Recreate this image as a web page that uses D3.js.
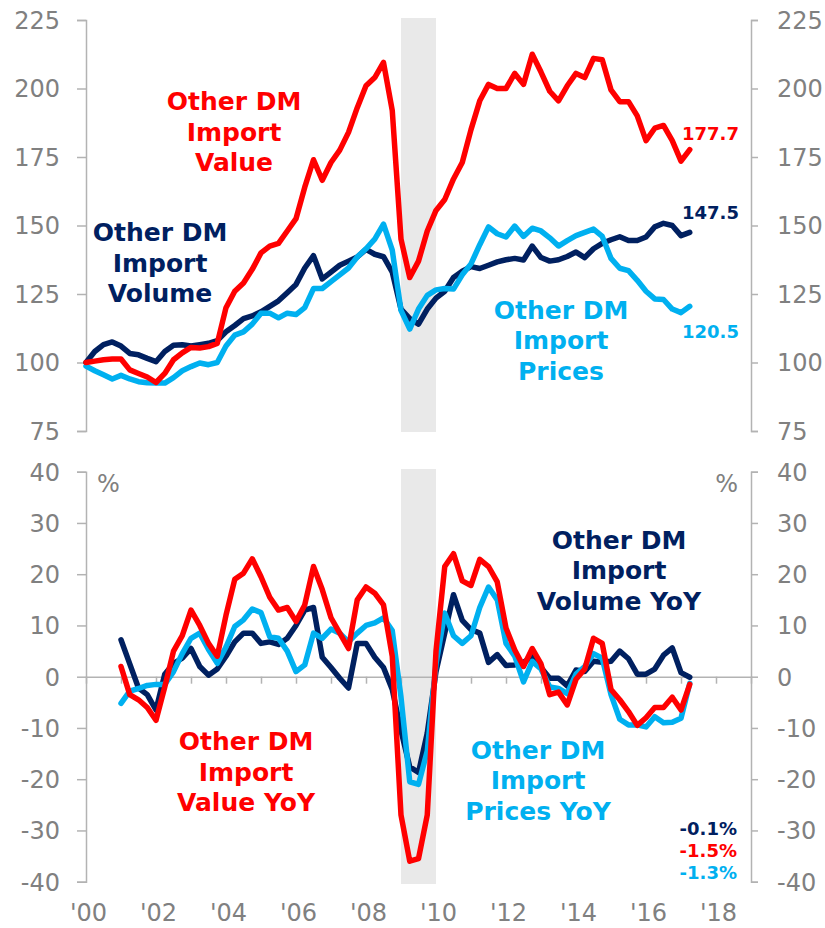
<!doctype html>
<html lang="en">
<head>
  <meta charset="utf-8">
  <title>Other DM imports</title>
  <script src="https://cdn.jsdelivr.net/npm/d3@7"></script>
  <style>
    body { margin: 0; background: #fff; }
    svg text { font-family: "DejaVu Sans", Verdana, sans-serif; }
  </style>
</head>
<body>
  <div id="chart"></div>
  <script>
    const NAVY = "#002060";
    const RED = "#FF0000";
    const LIGHT_BLUE = "#00B0F0";
    const GREY = "#808080";
    const AXIS_GREY = "#b3b3b3";
    const SHADE = "#e9e9e9";

    // quarterly readings, index level (Jan 2000 = 100), starting 2000 Q1
    const levelStart = 2000;
    const volume = [100, 104, 106.5, 107.5, 106, 103.3, 102.8, 101.5, 100.3, 104, 106.3, 106.5,
      106, 106.5, 107, 108, 111.2, 113.5, 116, 117, 118.5, 120.5, 122.5, 125.5,
      128.5, 134.5, 139, 130.5, 133, 135.5, 137, 138.5, 141.3, 139.5, 138.6, 133,
      119.5, 116, 114, 119.5, 123.5, 126, 131, 133.3, 135, 134.3, 135.5, 136.7,
      137.5, 138, 137.4, 142.5, 138.3, 137, 137.5, 138.7, 140.3, 138.3, 141.5, 143.5,
      144.8, 145.9, 144.5, 144.5, 145.8, 149.5, 150.8, 150, 146.3, 147.5];
    const value = [100, 100.5, 101, 101.3, 101.3, 97.3, 96, 94.7, 92.7, 96, 101, 103.5,
      105.5, 105.3, 105.8, 107, 120, 126, 129, 134, 140, 142.5, 143.5, 148,
      152.5, 164, 174, 166.5, 173, 177.5, 184, 193, 201, 204, 209.5, 192,
      145, 131, 137, 148, 155.5, 159.5, 167, 173, 185, 195.5, 201.5, 200,
      200, 205.5, 201.5, 212.5, 206, 199, 195.5, 201, 205.5, 204, 211, 210.5,
      199.5, 195.2, 195.2, 190, 181, 185.5, 186.5, 181, 173.5, 177.7];
    const prices = [98.7, 97, 95.5, 94, 95.3, 94, 93, 92.6, 92.5, 92.5, 94.5, 97,
      98.5, 99.8, 99.2, 100, 106, 110, 111.2, 114, 118, 118, 116.3, 118,
      117.5, 120, 127, 127, 129.5, 132, 134.5, 138.5, 141.5, 145, 150.5, 141,
      119, 112.2, 119.5, 124.5, 126.5, 127, 126.8, 132, 136, 143, 149.5, 147,
      145.8, 149.8, 146, 149, 148, 145.5, 142.5, 144.5, 146.3, 147.5, 148.7, 146,
      138, 134.4, 133.5, 130, 126, 123.2, 123, 119.5, 118.2, 120.5];

    // quarterly year-on-year changes in %, starting 2001 Q1
    const yoyStart = 2001;
    const volumeYoy = [7.2, 2.5, -2.2, -3.5, -6.5, 0.5, 2.6, 3.6, 5.5, 2, 0.3, 1.5,
      4, 6.8, 8.5, 8.5, 6.5, 6.8, 6.3, 7.5, 10, 13, 13.5, 3.8,
      1.8, -0.3, -2.2, 6.5, 6.5, 3.8, 1.8, -2.5, -10.5, -17.6, -18.7, -11,
      1, 8.5, 16, 11, 9.2, 8.5, 2.8, 4.3, 2.2, 2.3, 2.8, 3.9,
      1.8, -0.3, -0.3, -1.8, 1.3, 1, 3, 2.8, 3, 5, 3.5, 0.5,
      0.5, 1.5, 4.2, 5.6, 0.8, -0.1];
    const valueYoy = [2, -3.5, -4.5, -6, -8.5, -2, 5, 8, 13, 10, 6.5, 4,
      12, 19, 20.2, 23, 19.5, 15.5, 13, 13.5, 10.8, 14, 21.5, 17,
      11.5, 8.5, 5.5, 15, 17.5, 16.3, 14, 4, -27, -36, -35.5, -27,
      5, 21.5, 24, 18.7, 17.8, 22.9, 21.5, 18.5, 9.5, 5.2, 2, 5.5,
      2.5, -3.5, -3, -5.5, -0.5, 1.5, 7.5, 6.5, -2.5, -4.5, -6.8, -9.5,
      -8, -6, -6, -4, -6.5, -1.5];
    const pricesYoy = [-5.2, -2.8, -2.3, -1.7, -1.5, -1.5, 1, 4.5, 7.5, 8.5, 5.3, 2.6,
      5.8, 9.8, 11.1, 13.2, 12.5, 7.8, 7.5, 5, 1, 2.3, 8.5, 7.5,
      9.3, 8.5, 6.8, 8.5, 10, 10.5, 11.5, 9, -4, -20.5, -21, -14.5,
      2.5, 12.4, 8, 6.5, 8, 13.5, 17.5, 15, 6.5, 4, -1, 3,
      1.5, -2, -2.3, -3.3, 0.5, 2, 4.5, 3.6, -3.5, -8.3, -9.4, -9.4,
      -9.8, -7.8, -9, -8.9, -8.1, -1.3];

    const recession = [2009, 2010];
    const levelTicks = [75, 100, 125, 150, 175, 200, 225];
    const yoyTicks = [-40, -30, -20, -10, 0, 10, 20, 30, 40];
    const yearLabels = [2000, 2002, 2004, 2006, 2008, 2010, 2012, 2014, 2016, 2018];

    const w = 825;
    const h = 928;

    // plain hyphen for negatives, like the original
    const fmt1 = v => v.toFixed(1);

    const xScale = d3.scaleLinear().domain([2000, 2019]).range([86, 751]);
    const yTop = d3.scaleLinear().domain([75, 225]).range([431, 20]);
    const yBottom = d3.scaleLinear().domain([-40, 40]).range([881.7, 471.7]);

    const svg = d3.select("#chart").append("svg")
      .attr("width", w)
      .attr("height", h);

    // recession shading
    addShade(432, 18);
    addShade(884, 469);

    function addShade(bottom, top) {
      svg.append("rect")
        .attr("x", xScale(recession[0]))
        .attr("y", top)
        .attr("width", xScale(recession[1]) - xScale(recession[0]))
        .attr("height", bottom - top)
        .style("fill", SHADE);
    }

    // axes
    addAxis(d3.axisLeft(yTop).tickValues(levelTicks).tickSize(9), `translate(${xScale(2000)},0)`, "end");
    addAxis(d3.axisRight(yTop).tickValues(levelTicks).tickSize(7), `translate(${xScale(2019)},0)`, "start");
    addAxis(d3.axisLeft(yBottom).tickValues(yoyTicks).tickSize(9), `translate(${xScale(2000)},0)`, "end");
    addAxis(d3.axisRight(yBottom).tickValues(yoyTicks).tickSize(7), `translate(${xScale(2019)},0)`, "start");

    function addAxis(axis, transform, anchor) {
      const g = svg.append("g")
        .attr("transform", transform)
        .call(axis.tickPadding(anchor === "end" ? 17 : 19).tickFormat(d => String(d)));
      g.select(".domain").attr("stroke", AXIS_GREY).attr("stroke-width", 1.5);
      g.selectAll(".tick line").attr("stroke", AXIS_GREY).attr("stroke-width", 1.5);
      g.selectAll(".tick text")
        .style("font-size", "24px")
        .style("fill", GREY)
        .attr("dy", "0.35em");
      return g;
    }

    // zero line with yearly ticks
    const zeroAxis = svg.append("g")
      .attr("transform", `translate(0,${yBottom(0)})`)
      .call(d3.axisBottom(xScale)
        .tickValues(d3.range(2000, 2020))
        .tickSize(7)
        .tickSizeOuter(0)
        .tickFormat(""));
    zeroAxis.select(".domain").attr("stroke", AXIS_GREY).attr("stroke-width", 1.5);
    zeroAxis.selectAll(".tick line").attr("stroke", AXIS_GREY).attr("stroke-width", 1.5);

    // year labels
    const yearAxis = svg.append("g")
      .attr("transform", `translate(2,${yBottom(-40)})`)
      .call(d3.axisBottom(xScale)
        .tickValues(yearLabels)
        .tickSize(0)
        .tickPadding(22)
        .tickFormat(d => "'" + String(d).slice(2)));
    yearAxis.select(".domain").remove();
    yearAxis.selectAll(".tick text")
      .style("font-size", "24px")
      .style("fill", GREY);

    // percent units
    addText("%", 97, 492, GREY, "start", 24, "normal");
    addText("%", 738, 492, GREY, "end", 24, "normal");

    // lines
    const line = (scale, start) => d3.line()
      .x((d, i) => xScale(start + i * 0.25))
      .y(d => scale(d));

    addPath(volume, line(yTop, levelStart), NAVY);
    addPath(prices, line(yTop, levelStart), LIGHT_BLUE);
    addPath(value, line(yTop, levelStart), RED);
    addPath(volumeYoy, line(yBottom, yoyStart), NAVY);
    addPath(pricesYoy, line(yBottom, yoyStart), LIGHT_BLUE);
    addPath(valueYoy, line(yBottom, yoyStart), RED);

    function addPath(data, gen, color) {
      svg.append("path")
        .datum(data)
        .attr("d", gen)
        .style("fill", "none")
        .style("stroke", color)
        .style("stroke-width", 5.5)
        .style("stroke-linejoin", "round")
        .style("stroke-linecap", "round");
    }

    // series labels
    addBlock(["Other DM", "Import", "Value"], 234, 110, RED);
    addBlock(["Other DM", "Import", "Volume"], 160, 241, NAVY);
    addBlock(["Other DM", "Import", "Prices"], 561, 318.5, LIGHT_BLUE);
    addBlock(["Other DM", "Import", "Volume YoY"], 619, 548.5, NAVY);
    addBlock(["Other DM", "Import", "Value YoY"], 246, 750, RED);
    addBlock(["Other DM", "Import", "Prices YoY"], 538, 758.5, LIGHT_BLUE);

    function addBlock(lines, x, y, color) {
      lines.forEach((t, i) => addText(t, x, y + i * 30.5, color, "middle", 25, "bold"));
    }

    // last values
    addText(fmt1(value[value.length - 1]), 682, 140, RED, "start", 18, "bold");
    addText(fmt1(volume[volume.length - 1]), 682, 219, NAVY, "start", 18, "bold");
    addText(fmt1(prices[prices.length - 1]), 682, 338, LIGHT_BLUE, "start", 18, "bold");
    addText(fmt1(volumeYoy[volumeYoy.length - 1]) + "%", 737, 835, NAVY, "end", 18, "bold");
    addText(fmt1(valueYoy[valueYoy.length - 1]) + "%", 737, 857, RED, "end", 18, "bold");
    addText(fmt1(pricesYoy[pricesYoy.length - 1]) + "%", 737, 879, LIGHT_BLUE, "end", 18, "bold");

    function addText(text, x, y, color, anchor, size, weight) {
      svg.append("text")
        .attr("x", x)
        .attr("y", y)
        .style("text-anchor", anchor)
        .style("font-size", size + "px")
        .style("font-weight", weight)
        .style("fill", color)
        .text(text);
    }
  </script>
</body>
</html>
